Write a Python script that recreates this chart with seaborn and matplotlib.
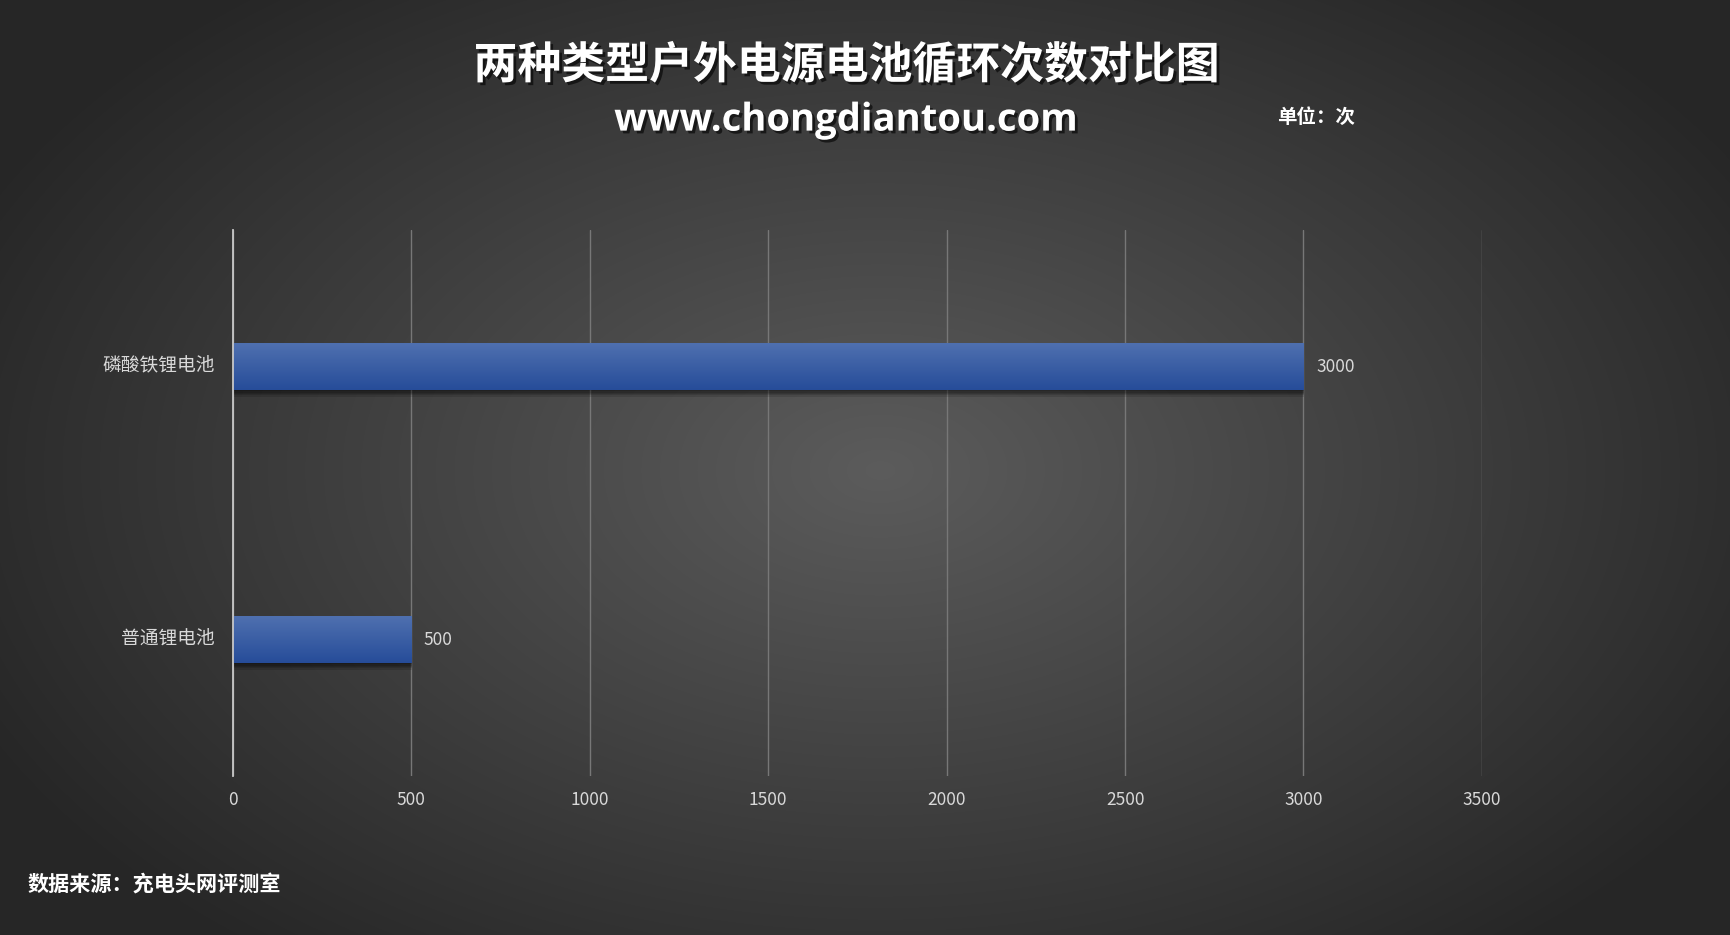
import numpy as np
import pandas as pd
import matplotlib
matplotlib.use("Agg")
import matplotlib.pyplot as plt
import matplotlib.patheffects as pe
import matplotlib.transforms as mtransforms
import seaborn as sns

categories = ["磷酸铁锂电池", "普通锂电池"]
cycles = [3000, 500]
x_ticks = [0, 500, 1000, 1500, 2000, 2500, 3000, 3500]

title = "两种类型户外电源电池循环次数对比图"
subtitle = "www.chongdiantou.com"
unit_text = "单位：次"
source_text = "数据来源：充电头网评测室"

sns.set_theme(style="dark")
plt.rcParams["font.family"] = ["Noto Sans CJK SC", "DejaVu Sans"]
plt.rcParams["axes.unicode_minus"] = False

df = pd.DataFrame({"电池": categories, "循环次数": cycles})

fig = plt.figure(figsize=(17.31, 9.35), dpi=100)

# radial gradient background
bg = fig.add_axes([0, 0, 1, 1])
yy, xx = np.mgrid[0:935, 0:1731]
r = np.sqrt(((xx - 880) / 1000.0) ** 2 + ((yy - 470) / 620.0) ** 2)
r = np.clip(r, 0, 1)
light = np.array([0.36, 0.36, 0.36])
dark = np.array([0.15, 0.15, 0.15])
img = light[None, None, :] * (1 - r[..., None]) + dark[None, None, :] * r[..., None]
bg.imshow(img, aspect="auto", extent=[0, 1, 0, 1], zorder=0)
bg.set_axis_off()

ax = fig.add_axes([0.1346, 0.170, 0.7215, 0.584])
ax.set_facecolor("none")
sns.barplot(data=df, y="电池", x="循环次数", orient="h", width=0.17,
            color="#33579e", linewidth=0, ax=ax, zorder=3)

ax.set_xlim(0, 3500)
ax.set_ylim(1.5, -0.5)
ax.set_xticks(x_ticks)
ax.set_xticklabels([str(t) for t in x_ticks])
ax.set_xlabel("")
ax.set_ylabel("")
ax.grid(axis="x", color="#777777", linewidth=1.0, zorder=0)
ax.grid(axis="y", visible=False)
for s in ["top", "right", "bottom"]:
    ax.spines[s].set_visible(False)
ax.spines["left"].set_color("#c8c8c8")
ax.spines["left"].set_linewidth(1.3)
ax.spines["left"].set_zorder(5)
ax.tick_params(axis="x", length=0, pad=11, labelsize=12.5, colors="#d9d9d9")
ax.tick_params(axis="y", length=0, pad=13, labelsize=13.5, colors="#d9d9d9")
up = mtransforms.ScaledTranslation(0, 4 / 100, fig.dpi_scale_trans)
for lab in ax.get_yticklabels():
    lab.set_transform(lab.get_transform() + up)

# bar gradient + soft shadow
grad = np.linspace(0, 1, 100)[:, None]
top_c = np.array([0.31, 0.44, 0.69])
bot_c = np.array([0.15, 0.30, 0.60])
gimg = top_c[None, None, :] * (1 - grad[..., None]) + bot_c[None, None, :] * grad[..., None]
gimg = np.repeat(gimg, 2, axis=1)
soft = [pe.SimplePatchShadow(offset=(0.5, -k), shadow_rgbFace="black", alpha=0.13)
        for k in (1, 2, 3, 4, 5)]
for p in ax.patches:
    p.set_edgecolor("none")
    p.set_path_effects(soft + [pe.Normal()])
    x0, y0 = p.get_x(), p.get_y()
    w, h = p.get_width(), p.get_height()
    im = ax.imshow(gimg, aspect="auto", extent=[x0, x0 + w, y0 + h, y0],
                   zorder=4, interpolation="bicubic")
    im.set_clip_path(p)

ax.set_xlim(0, 3500)
ax.set_ylim(1.5, -0.5)

for i, v in enumerate(cycles):
    ax.annotate(str(v), xy=(v, i), xytext=(9, 0), textcoords="offset points",
                va="center", ha="left", fontsize=12.5, color="#d9d9d9", zorder=6)

shadow = [pe.withSimplePatchShadow(offset=(2, -2), shadow_rgbFace="black", alpha=0.6)]
fig.text(0.489, 0.930, title, ha="center", va="center", fontsize=31.6,
         fontweight="bold", color="white", path_effects=shadow)
fig.text(0.489, 0.871, subtitle, ha="center", va="center", fontsize=27.5,
         fontweight="bold", color="white", path_effects=shadow,
         family=["Open Sans", "DejaVu Sans"])
fig.text(0.738, 0.874, unit_text, ha="left", va="center", fontsize=14,
         fontweight="bold", color="white")
fig.text(0.016, 0.054, source_text, ha="left", va="center", fontsize=15.2,
         fontweight="bold", color="white")

fig.savefig("out.png", dpi=100)
